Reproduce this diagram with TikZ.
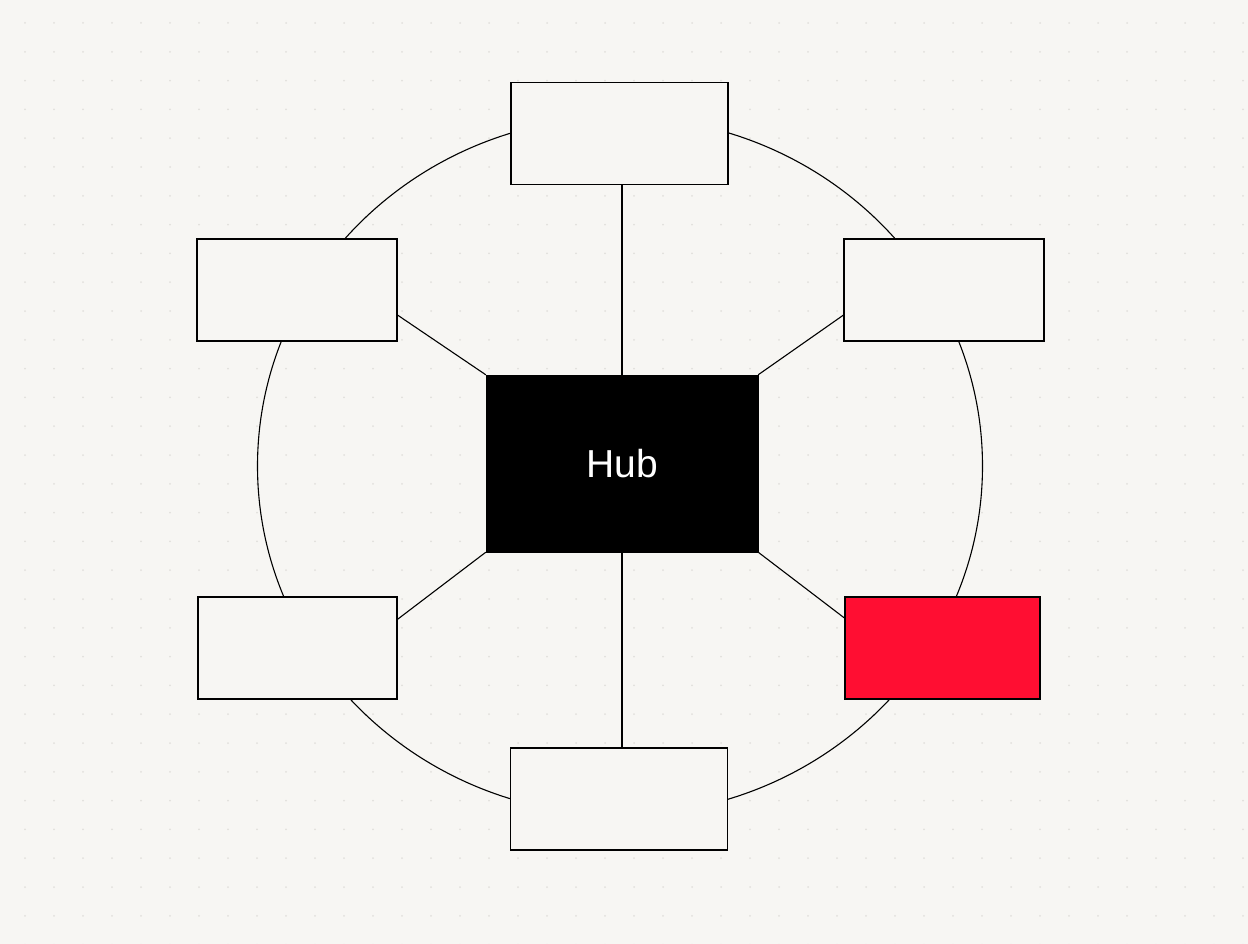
\documentclass[tikz,border=0pt]{standalone}
\usepackage{fontspec}
\setmainfont{Liberation Sans}
\definecolor{bgc}{HTML}{F7F6F3}
\definecolor{dotc}{HTML}{E2E0DC}
\definecolor{hubred}{RGB}{255,14,50}
\begin{document}
\begin{tikzpicture}[x=1pt,y=-1pt,
  box/.style={draw=black,line width=1.1pt,fill=bgc,inner sep=0pt,minimum width=200pt,minimum height=102pt},
  widebox/.style={box,minimum width=217pt},
  redbox/.style={box,fill=hubred,minimum width=195pt},
  hubbox/.style={draw=black,fill=black,inner sep=0pt,minimum width=272pt,minimum height=177pt,text=white,font=\fontsize{39}{44}\selectfont},
  link/.style={line width=1.1pt,black},
  ring/.style={line width=1.1pt,black}]
\fill[bgc] (0,0) rectangle (1248,944);
\useasboundingbox (0,0) rectangle (1248,944);
\foreach \i in {0,...,42}{\foreach \j in {0,...,32}{
  \fill[dotc] (25+29*\i,23+28.8*\j) circle (1pt);}}
\coordinate (c) at (620,466);
\draw[ring] (c) ellipse [x radius=362.5pt, y radius=349pt];
\node[hubbox] (hub) at (622,463.5) {Hub};
\node[widebox] (top) at (619.5,133.5) {};
\node[widebox] (bot) at (619,799) {};
\node[box] (tl) at (297,290) {};
\node[box] (tr) at (944,290) {};
\node[box,minimum width=199pt] (bl) at (297.5,648) {};
\node[redbox] (br) at (942.5,648) {};
\draw[link] (top.south -| hub.north) -- (hub.north);
\draw[link] (hub.south) -- (bot.north -| hub.south);
\draw[link] (tl.-14.6) -- (hub.north west);
\draw[link] (tr.194.6) -- (hub.north east);
\draw[link] (bl.16.2) -- (hub.south west);
\draw[link] (br.163.4) -- (hub.south east);
\end{tikzpicture}
\end{document}
